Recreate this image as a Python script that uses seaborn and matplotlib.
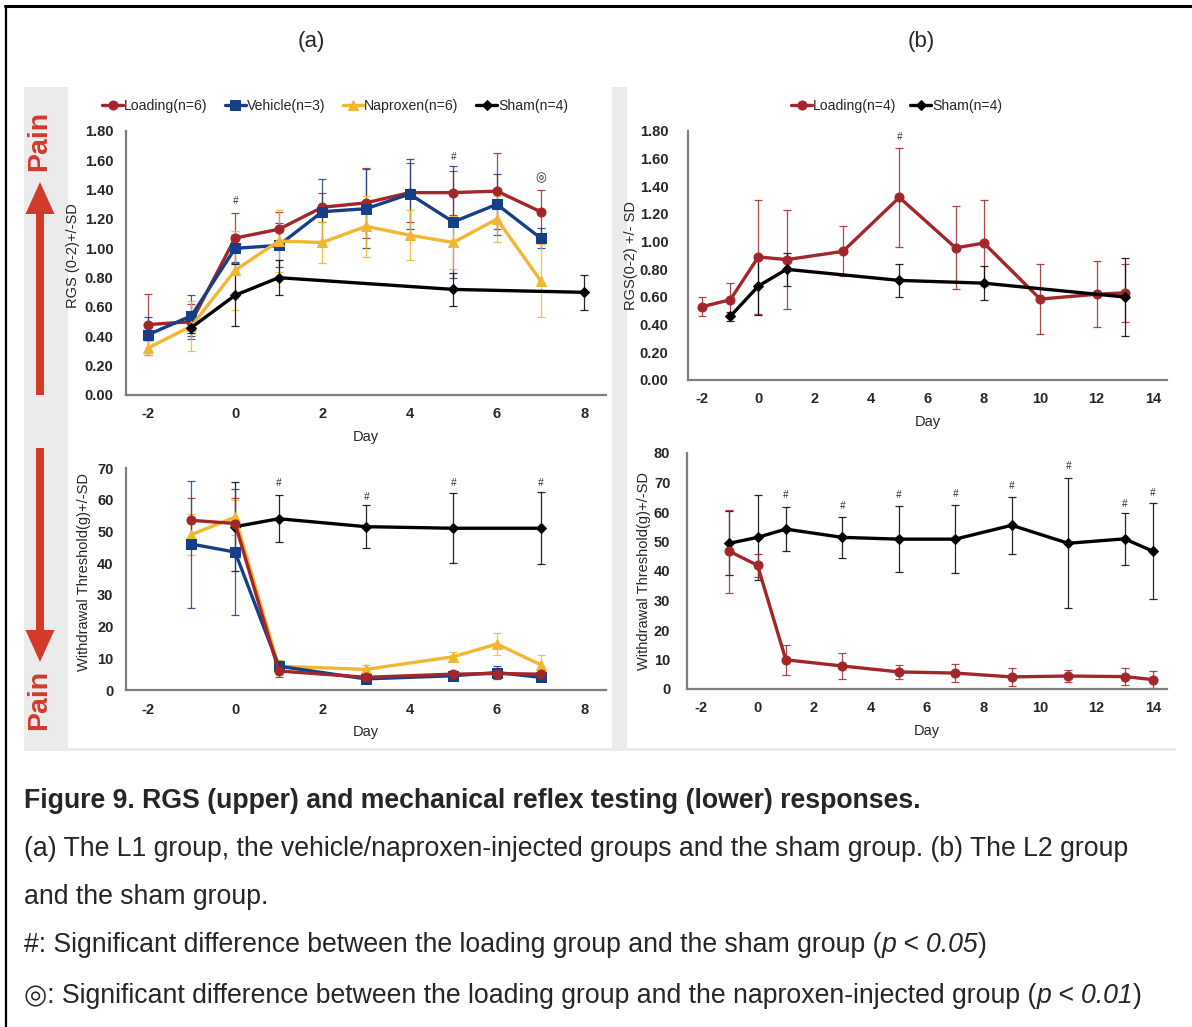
import matplotlib
matplotlib.use("Agg")
import matplotlib.pyplot as plt
from matplotlib.patches import Rectangle, FancyArrow
from matplotlib.lines import Line2D
import pandas as pd
import seaborn as sns

W, H = 1192, 1027

# ---- (a) RGS ----
days_a = [-2, -1, 0, 1, 2, 3, 4, 5, 6, 7]
loading_a_rgs = [0.48, 0.50, 1.07, 1.13, 1.28, 1.31, 1.38, 1.38, 1.39, 1.25]
loading_a_rgs_sd = [0.21, 0.12, 0.17, 0.12, 0.10, 0.24, 0.20, 0.15, 0.26, 0.15]
vehicle_a_rgs = [0.41, 0.54, 1.00, 1.02, 1.25, 1.27, 1.37, 1.18, 1.30, 1.07]
vehicle_a_rgs_sd = [0.12, 0.14, 0.09, 0.15, 0.22, 0.27, 0.24, 0.38, 0.21, 0.07]
naproxen_a_rgs = [0.32, 0.47, 0.85, 1.05, 1.04, 1.15, 1.09, 1.04, 1.20, 0.78]
naproxen_a_rgs_sd = [0.05, 0.17, 0.27, 0.21, 0.14, 0.21, 0.17, 0.18, 0.16, 0.25]
sham_a_rgs_days = [-1, 0, 1, 5, 8]
sham_a_rgs = [0.46, 0.68, 0.80, 0.72, 0.70]
sham_a_rgs_sd = [0.04, 0.21, 0.12, 0.11, 0.12]

# ---- (a) withdrawal threshold ----
days_a_wt = [-1, 0, 1, 3, 5, 6, 7]
loading_a_wt = [53.5, 52.5, 6.0, 4.0, 5.0, 5.2, 5.0]
loading_a_wt_sd = [7, 8, 2, 1, 1, 1, 1]
vehicle_a_wt = [46.0, 43.5, 7.5, 3.5, 4.5, 5.5, 4.0]
vehicle_a_wt_sd = [20, 20, 1.5, 1, 1, 2, 1]
naproxen_a_wt = [49.0, 54.5, 7.5, 6.5, 10.5, 14.5, 8.0]
naproxen_a_wt_sd = [6.5, 5.5, 2, 1.5, 1.5, 3.5, 3]
sham_a_wt_days = [0, 1, 3, 5, 7]
sham_a_wt = [51.5, 54.0, 51.5, 51.0, 51.0]
sham_a_wt_sd = [14.0, 7.4, 6.8, 11.0, 11.4]

# ---- (b) RGS ----
days_b_rgs = [-2, -1, 0, 1, 3, 5, 7, 8, 10, 12, 13]
loading_b_rgs = [0.53, 0.58, 0.89, 0.87, 0.93, 1.32, 0.955, 0.99, 0.585, 0.62, 0.63]
loading_b_rgs_sd = [0.07, 0.12, 0.41, 0.36, 0.18, 0.36, 0.30, 0.31, 0.25, 0.24, 0.21]
sham_b_rgs_days = [-1, 0, 1, 5, 8, 13]
sham_b_rgs = [0.46, 0.68, 0.80, 0.72, 0.70, 0.60]
sham_b_rgs_sd = [0.03, 0.21, 0.12, 0.12, 0.125, 0.28]

# ---- (b) withdrawal threshold ----
days_b_wt = [-1, 0, 1, 3, 5, 7, 9, 11, 13, 14]
loading_b_wt = [46.7, 41.9, 9.9, 7.8, 5.8, 5.4, 4.1, 4.4, 4.2, 3.2]
loading_b_wt_sd = [14, 4, 5, 4.4, 2.5, 3, 3, 2, 3, 3]
sham_b_wt = [49.4, 51.4, 54.2, 51.4, 50.8, 50.8, 55.5, 49.4, 50.9, 46.7]
sham_b_wt_sd = [10.9, 14.4, 7.5, 7, 11.3, 11.6, 9.6, 22, 8.8, 16.2]

# significance marks
hash_a_rgs = ([0, 5], [1.32, 1.62])
dcircle_a_rgs = ([7], [1.48])
hash_a_wt = ([1, 3, 5, 7], [65.4, 61.0, 65.4, 65.4])
hash_b_rgs = ([5], [1.76])
hash_b_wt = ([1, 3, 5, 7, 9, 11, 13, 14], [65.8, 61.9, 65.8, 66.0, 68.7, 75.5, 62.7, 66.6])

RED = "#a3262b"
BLUE = "#163f8a"
YELLOW = "#f2b630"
BLACK = "#000000"
PAIN = "#d23a2a"

sns.set_style("white")
plt.rcParams["font.family"] = ["Liberation Sans", "DejaVu Sans"]
plt.rcParams["axes.unicode_minus"] = False

fig = plt.figure(figsize=(W / 100, H / 100), dpi=100)

# background / decoration layer in pixel coordinates
bg = fig.add_axes([0, 0, 1, 1])
bg.set_xlim(0, W)
bg.set_ylim(H, 0)
bg.axis("off")
bg.add_patch(Rectangle((24, 87), 1152, 664, color="#ebebeb", lw=0))
bg.add_patch(Rectangle((68, 87), 544, 661, color="white", lw=0))
bg.add_patch(Rectangle((627, 87), 549, 661, color="white", lw=0))
bg.add_line(Line2D([5, W], [6, 6], color="black", lw=2.2))
bg.add_line(Line2D([6, 6], [6, H], color="black", lw=1.6))
bg.add_patch(FancyArrow(40, 395, 0, -213, width=8, head_width=29, head_length=32,
                        length_includes_head=True, color=PAIN, lw=0))
bg.add_patch(FancyArrow(40, 448, 0, 214, width=8, head_width=29, head_length=32,
                        length_includes_head=True, color=PAIN, lw=0))
bg.text(39, 141, "Pain", rotation=90, ha="center", va="center", color=PAIN,
        fontsize=20.5, fontweight="bold")
bg.text(39, 700, "Pain", rotation=90, ha="center", va="center", color=PAIN,
        fontsize=20.5, fontweight="bold")
bg.text(311, 42, "(a)", ha="center", va="center", fontsize=16)
bg.text(921, 42, "(b)", ha="center", va="center", fontsize=16)


def px_axes(l, t, r, b):
    ax = fig.add_axes([l / W, 1 - b / H, (r - l) / W, (b - t) / H])
    ax.set_facecolor("none")
    return ax


def series(ax, days, vals, sds, color, marker, ms, label):
    ax.errorbar(days, vals, yerr=sds, fmt="none", ecolor=color, elinewidth=0.9,
                capsize=3.2, capthick=0.9, alpha=0.85, zorder=2)
    df = pd.DataFrame({"Day": days, "value": vals})
    sns.lineplot(data=df, x="Day", y="value", ax=ax, color=color, marker=marker,
                 markersize=ms, markeredgecolor=color, linewidth=2.4,
                 errorbar=None, legend=False, zorder=3)
    line = ax.lines[-1]
    line.set_label(label)
    return line


def style(ax, xlim, ylim, yticks, yfmt, ylabel, ylab_pos):
    ax.set_xlim(*xlim)
    ax.set_ylim(*ylim)
    ax.set_xticks(range(-2, int(xlim[1]) + 1, 2))
    ax.set_yticks(yticks)
    ax.set_yticklabels([yfmt.format(v) for v in yticks])
    for s in ("top", "right"):
        ax.spines[s].set_visible(False)
    for s in ("left", "bottom"):
        ax.spines[s].set_color("#7f7f7f")
        ax.spines[s].set_linewidth(1.6)
    ax.tick_params(length=0, labelsize=10.5, pad=9)
    for lab in ax.get_xticklabels() + ax.get_yticklabels():
        lab.set_fontweight("bold")
    ax.set_xlabel("Day", fontsize=10.5, labelpad=6)
    ax.set_ylabel(ylabel, fontsize=10.5)
    ax.yaxis.set_label_coords(*ylab_pos)


def marks(ax, pts, text, size=7, family=None):
    for x, y in zip(*pts):
        ax.text(x, y, text, ha="center", va="center", fontsize=size,
                fontstyle="italic" if family is None else "normal",
                family=family if family else ["Liberation Sans", "DejaVu Sans"])


# (a) upper
ax1 = px_axes(126, 131, 606, 395)
h1 = [
    series(ax1, days_a, loading_a_rgs, loading_a_rgs_sd, RED, "o", 6.5, "Loading(n=6)"),
    series(ax1, days_a, vehicle_a_rgs, vehicle_a_rgs_sd, BLUE, "s", 6.5, "Vehicle(n=3)"),
    series(ax1, days_a, naproxen_a_rgs, naproxen_a_rgs_sd, YELLOW, "^", 7.5, "Naproxen(n=6)"),
    series(ax1, sham_a_rgs_days, sham_a_rgs, sham_a_rgs_sd, BLACK, "D", 5, "Sham(n=4)"),
]
style(ax1, (-2.5, 8.5), (0, 1.8), [0, 0.2, 0.4, 0.6, 0.8, 1.0, 1.2, 1.4, 1.6, 1.8],
      "{:.2f}", "RGS (0-2)+/-SD", (-0.095, 0.53))
marks(ax1, hash_a_rgs, "#")
marks(ax1, dcircle_a_rgs, "◎", size=9, family=["DejaVu Sans"])
ax1.legend(handles=h1, loc="center left", bbox_to_anchor=(102 / W, 1 - 106 / H),
           bbox_transform=fig.transFigure, ncol=4, frameon=False, fontsize=10.1,
           handlelength=1.5, handletextpad=0.05, columnspacing=1.25,
           borderpad=0, borderaxespad=0)

# (a) lower
ax2 = px_axes(126, 468, 606, 690)
series(ax2, sham_a_wt_days, sham_a_wt, sham_a_wt_sd, BLACK, "D", 5, "Sham")
series(ax2, days_a_wt, naproxen_a_wt, naproxen_a_wt_sd, YELLOW, "^", 7.5, "Naproxen")
series(ax2, days_a_wt, vehicle_a_wt, vehicle_a_wt_sd, BLUE, "s", 6.5, "Vehicle")
series(ax2, days_a_wt, loading_a_wt, loading_a_wt_sd, RED, "o", 6.5, "Loading")
style(ax2, (-2.5, 8.5), (0, 70), list(range(0, 71, 10)), "{:d}",
      "Withdrawal Threshold(g)+/-SD", (-0.072, 0.53))
marks(ax2, hash_a_wt, "#")

# (b) upper
ax3 = px_axes(688, 131, 1167, 380)
h3 = [
    series(ax3, days_b_rgs, loading_b_rgs, loading_b_rgs_sd, RED, "o", 6.5, "Loading(n=4)"),
    series(ax3, sham_b_rgs_days, sham_b_rgs, sham_b_rgs_sd, BLACK, "D", 5, "Sham(n=4)"),
]
style(ax3, (-2.5, 14.5), (0, 1.8), [0, 0.2, 0.4, 0.6, 0.8, 1.0, 1.2, 1.4, 1.6, 1.8],
      "{:.2f}", "RGS(0-2) +/- SD", (-0.104, 0.50))
ax3.tick_params(axis="y", pad=14)
marks(ax3, hash_b_rgs, "#")
ax3.legend(handles=h3, loc="center left", bbox_to_anchor=(791 / W, 1 - 106 / H),
           bbox_transform=fig.transFigure, ncol=2, frameon=False, fontsize=10.1,
           handlelength=1.5, handletextpad=0.05, columnspacing=1.0,
           borderpad=0, borderaxespad=0)

# (b) lower
ax4 = px_axes(687, 453, 1167, 689)
series(ax4, days_b_wt, sham_b_wt, sham_b_wt_sd, BLACK, "D", 5, "Sham")
series(ax4, days_b_wt, loading_b_wt, loading_b_wt_sd, RED, "o", 6.5, "Loading")
style(ax4, (-2.5, 14.5), (0, 80), list(range(0, 81, 10)), "{:d}",
      "Withdrawal Threshold(g)+/-SD", (-0.075, 0.50))
ax4.tick_params(axis="y", pad=12)
marks(ax4, hash_b_wt, "#")

# caption
renderer = fig.canvas.get_renderer()
FAM = ["Liberation Sans", "DejaVu Sans"]


def caption_line(y, pieces, size=19.2):
    x = 24
    for txt, kw in pieces:
        t = fig.text(x / W, 1 - y / H, txt, fontsize=size, va="center", ha="left",
                     family=FAM, **kw)
        x += t.get_window_extent(renderer).width


caption_line(801, [("Figure 9. RGS (upper) and mechanical reflex testing (lower) responses.",
                    {"fontweight": "bold"})])
caption_line(849, [("(a) The L1 group, the vehicle/naproxen-injected groups and the sham group. "
                    "(b) The L2 group", {})])
caption_line(897, [("and the sham group.", {})])
caption_line(945, [("#: Significant difference between the loading group and the sham group (", {}),
                   ("p < 0.05", {"fontstyle": "italic"}), (")", {})])
caption_line(996, [("◎: Significant difference between the loading group and the "
                    "naproxen-injected group (", {}),
                   ("p < 0.01", {"fontstyle": "italic"}), (")", {})])

fig.savefig("out.png", dpi=100)
